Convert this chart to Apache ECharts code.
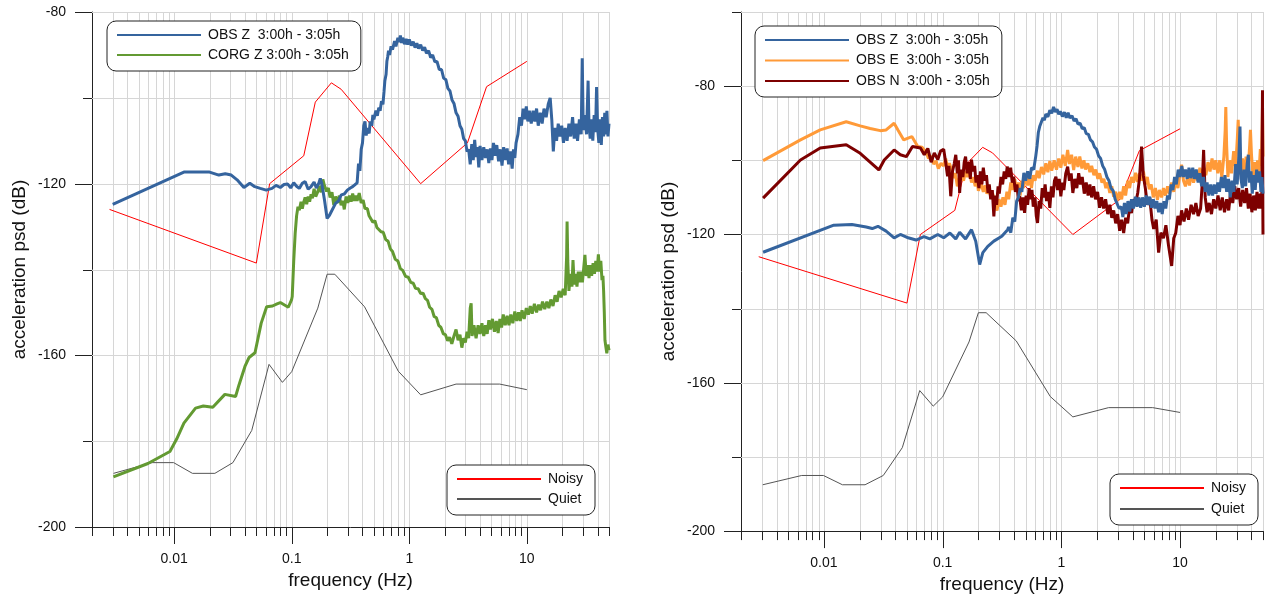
<!DOCTYPE html>
<html>
<head>
<meta charset="utf-8">
<script src="https://cdn.jsdelivr.net/npm/echarts@6/dist/echarts.min.js"></script>
<style>
  html, body { margin: 0; padding: 0; background: #fff; }
  #chart { width: 1266px; height: 599px; }
</style>
</head>
<body>
<div id="chart"></div>
<script>
// axis ticks (frequency in Hz, level in dB)
var majorFreqs = [0.01, 0.1, 1, 10];
var minorFreqs = [0.002, 0.003, 0.004, 0.005, 0.006, 0.007, 0.008, 0.009,
                  0.02, 0.03, 0.04, 0.05, 0.06, 0.07, 0.08, 0.09,
                  0.2, 0.3, 0.4, 0.5, 0.6, 0.7, 0.8, 0.9,
                  2, 3, 4, 5, 6, 7, 8, 9, 20, 30, 40, 50];
var leftDbTicks = [-200, -180, -160, -140, -120, -100, -80];
var rightDbTicks = [-200, -180, -160, -140, -120, -100, -80, -60];

// Peterson noise models
var noisyModel = [[0.00282, -126.0], [0.05, -138.5], [0.0649, -120.0], [0.1266, -113.5],
  [0.1587, -101.0], [0.2174, -96.5], [0.2632, -98.0], [1.25, -120.0], [3.125, -110.5],
  [4.545, -97.4], [10, -91.5]];
var quietModel = [[0.00305, -187.5], [0.00649, -185.0], [0.0099, -185.0], [0.0143, -187.5],
  [0.0222, -187.5], [0.0316, -185.0], [0.0457, -177.5], [0.0641, -162.1], [0.0833, -166.3],
  [0.1, -163.8], [0.1667, -149.0], [0.2, -141.1], [0.2326, -141.1], [0.4167, -148.7],
  [0.8065, -163.7], [1.25, -169.2], [2.5, -166.7], [5.88, -166.7], [10, -168.0]];

// left panel: OBS Z
var obsZLeft = [[0.003, -124.8], [0.0121, -117.3], [0.020, -117.3], [0.024, -118.0], [0.0272, -117.7],
  [0.0306, -118.0], [0.0343, -119.1], [0.0392, -120.9], [0.044, -119.9], [0.0485, -120.7], [0.054, -121.1],
  [0.0607, -121.5], [0.068, -121.1], [0.0735, -120.4], [0.080, -120.9], [0.086, -120.2], [0.0925, -120.1],
  [0.098, -121.0], [0.104, -119.8], [0.110, -120.6], [0.116, -121.1], [0.123, -119.9], [0.130, -119.5],
  [0.138, -121.3], [0.146, -120.7], [0.155, -119.6], [0.162, -121.0], [0.170, -119.9], [0.175, -118.8],
  [0.18, -119.9], [0.19, -123.8], [0.20, -128.1], [0.21, -127.3], [0.218, -126.9], [0.236, -124.6],
  [0.25, -124.0], [0.264, -122.6], [0.28, -122.4], [0.297, -121.5], [0.315, -121.0], [0.33, -120.7],
  [0.36, -119.8], [0.37, -115.3], [0.38, -117.0], [0.39, -112.0], [0.40, -110.5], [0.41, -106.5],
  [0.42, -105.5], [0.43, -108.8], [0.44, -107.0], [0.456, -108.3], [0.465, -105.5], [0.48, -106.5],
  [0.49, -104.0], [0.50, -105.0], [0.52, -103.0], [0.535, -104.2], [0.55, -102.3], [0.565, -103.0],
  [0.58, -100.8], [0.597, -101.5], [0.61, -98.5], [0.62, -96.0], [0.635, -94.5], [0.645, -91.5],
  [0.655, -90.5], [0.666, -89.0], [0.68, -90.0], [0.70, -88.0], [0.72, -88.8], [0.75, -86.8],
  [0.77, -88.0], [0.80, -86.0], [0.82, -87.0], [0.84, -85.5], [0.86, -87.2], [0.88, -86.0],
  [0.91, -87.5], [0.94, -86.3], [0.97, -87.6], [1.0, -86.4], [1.04, -87.8], [1.08, -86.9],
  [1.12, -88.3], [1.16, -87.3], [1.2, -88.5], [1.25, -87.6], [1.3, -89.0], [1.35, -88.2],
  [1.4, -89.6], [1.46, -89.0], [1.52, -90.6], [1.58, -90.0], [1.65, -91.6], [1.72, -91.5],
  [1.8, -93.4], [1.88, -93.4], [1.96, -95.4], [2.05, -95.8], [2.13, -97.8], [2.22, -98.4],
  [2.31, -100.5], [2.4, -101.3], [2.5, -103.5], [2.6, -104.3], [2.7, -106.5], [2.8, -107.3],
  [2.9, -109.5], [3.0, -110.0], [3.1, -112.5], [3.2, -112.0], [3.3, -115.5], [3.4, -110.8],
  [3.5, -114.5], [3.6, -109.8], [3.7, -113.8], [3.8, -111.5], [3.9, -116.2], [4.0, -111.2],
  [4.15, -114.5], [4.3, -111.5], [4.45, -114.0], [4.6, -112.0], [4.75, -115.2], [4.9, -111.8],
  [5.05, -114.5], [5.2, -110.5], [5.4, -113.5], [5.55, -111.0], [5.75, -114.8], [5.95, -112.0],
  [6.15, -115.8], [6.35, -111.5], [6.6, -114.5], [6.8, -111.8], [7.0, -115.5], [7.25, -112.5],
  [7.5, -116.5], [7.7, -112.0], [7.9, -114.0], [8.1, -110.5], [8.4, -108.5], [8.7, -104.5],
  [9.0, -106.5], [9.3, -102.5], [9.6, -105.0], [9.9, -102.0], [10.2, -105.5], [10.5, -103.0],
  [10.9, -106.0], [11.3, -103.0], [11.7, -105.5], [12.1, -102.5], [12.5, -106.5], [13.0, -103.5],
  [13.5, -106.0], [14.0, -102.5], [14.6, -104.5], [15.2, -101.5], [15.8, -100.0], [16.3, -105.0],
  [16.8, -112.5], [17.3, -107.0], [17.9, -110.0], [18.5, -106.0], [19.1, -109.0], [19.8, -106.5],
  [20.5, -110.5], [21.2, -107.0], [22.0, -110.0], [22.8, -106.0], [23.6, -109.0], [24.5, -104.5],
  [25.3, -109.5], [26.2, -106.0], [27.0, -110.0], [28.0, -105.0], [29.0, -108.5], [29.6, -90.8],
  [30.2, -107.5], [31.2, -104.0], [32.2, -108.5], [33.2, -96.0], [33.8, -106.5], [34.6, -109.5],
  [35.5, -105.0], [36.4, -110.0], [37.4, -104.0], [38.4, -108.0], [39.2, -97.5], [40.0, -107.0],
  [41.0, -110.5], [42.0, -105.0], [43.0, -111.0], [44.0, -104.5], [45.0, -109.0], [46.0, -103.5],
  [47.0, -108.5], [48.0, -103.0], [49.0, -109.0], [50.0, -106.0]];

// left panel: CORG Z
var corgZ = [[0.00304, -188.3], [0.00598, -185.2], [0.0092, -182.4], [0.0105, -179.5], [0.0121, -175.8],
  [0.0152, -172.3], [0.0177, -171.8], [0.0213, -172.1], [0.027, -169.1], [0.0333, -169.6],
  [0.0356, -166.9], [0.040, -162.6], [0.0434, -160.5], [0.0487, -159.4], [0.055, -152.5],
  [0.0612, -148.7], [0.0687, -148.5], [0.075, -148.0], [0.080, -147.7], [0.0935, -148.8],
  [0.0996, -147.1], [0.101, -146.3], [0.104, -138.0], [0.107, -131.6], [0.110, -127.5], [0.113, -125.4],
  [0.116, -126.2], [0.120, -124.2], [0.123, -125.8], [0.126, -124.5], [0.130, -123.2], [0.134, -124.8],
  [0.138, -123.0], [0.142, -124.2], [0.146, -122.5], [0.150, -123.4], [0.155, -121.2], [0.160, -123.0],
  [0.166, -122.0], [0.172, -120.5], [0.178, -122.0], [0.184, -119.0], [0.19, -120.5], [0.198, -121.8],
  [0.205, -121.0], [0.212, -123.2], [0.22, -122.0], [0.228, -125.0], [0.236, -123.0], [0.245, -124.5],
  [0.254, -122.8], [0.263, -125.0], [0.272, -124.0], [0.28, -126.0], [0.29, -123.0], [0.30, -124.5],
  [0.31, -122.8], [0.32, -124.2], [0.33, -122.3], [0.34, -124.0], [0.35, -122.8], [0.36, -124.0],
  [0.375, -122.2], [0.39, -124.5], [0.405, -123.8], [0.42, -125.8], [0.44, -125.8], [0.455, -127.5],
  [0.47, -127.2], [0.49, -129.0], [0.51, -128.6], [0.53, -130.2], [0.55, -129.8], [0.575, -131.2],
  [0.60, -131.3], [0.63, -133.0], [0.66, -133.4], [0.69, -135.2], [0.72, -135.8], [0.76, -137.6],
  [0.80, -138.0], [0.84, -139.8], [0.88, -140.2], [0.93, -141.6], [0.98, -141.8], [1.03, -143.0],
  [1.08, -143.2], [1.13, -144.4], [1.19, -144.5], [1.25, -145.6], [1.31, -145.5], [1.37, -146.8],
  [1.43, -147.2], [1.49, -148.8], [1.56, -149.3], [1.63, -151.0], [1.70, -151.2], [1.78, -153.0],
  [1.86, -153.5], [1.95, -155.0], [2.03, -155.2], [2.12, -156.6], [2.2, -155.8], [2.3, -157.3],
  [2.4, -155.5], [2.5, -154.0], [2.6, -156.5], [2.7, -155.2], [2.8, -158.2], [2.9, -156.0],
  [3.0, -157.0], [3.1, -154.5], [3.2, -156.0], [3.3, -149.0], [3.36, -147.9], [3.42, -155.5],
  [3.55, -153.0], [3.7, -156.0], [3.85, -153.0], [4.0, -155.0], [4.15, -152.5], [4.3, -155.5],
  [4.45, -153.0], [4.6, -155.0], [4.75, -151.8], [4.9, -154.0], [5.1, -151.5], [5.3, -154.5],
  [5.5, -152.0], [5.7, -154.8], [5.9, -151.5], [6.1, -153.5], [6.3, -150.5], [6.55, -153.0],
  [6.8, -150.8], [7.05, -153.0], [7.3, -150.5], [7.6, -152.5], [7.9, -149.8], [8.2, -152.0],
  [8.5, -150.0], [8.8, -152.0], [9.1, -149.5], [9.5, -151.5], [9.9, -149.0], [10.3, -150.5],
  [10.7, -148.5], [11.1, -150.3], [11.6, -148.0], [12.1, -150.0], [12.6, -148.2], [13.1, -149.5],
  [13.6, -147.5], [14.2, -149.2], [14.8, -147.5], [15.4, -149.0], [16.0, -147.0], [16.7, -148.5],
  [17.4, -146.0], [18.1, -147.5], [18.8, -145.0], [19.6, -146.5], [20.4, -144.5], [21.2, -146.0],
  [21.8, -137.0], [22.0, -128.8], [22.3, -138.0], [22.8, -145.0], [23.5, -141.0], [24.2, -144.0],
  [24.7, -137.8], [25.3, -143.5], [26.0, -141.0], [26.7, -144.0], [27.4, -140.5], [28.1, -143.0],
  [28.9, -140.5], [29.7, -143.0], [30.5, -139.5], [31.2, -136.6], [32.0, -141.5], [32.9, -139.0],
  [33.8, -142.0], [34.7, -139.0], [35.6, -141.5], [36.6, -138.5], [37.6, -141.0], [38.6, -138.0],
  [39.6, -140.5], [40.6, -136.5], [41.6, -140.5], [42.6, -138.0], [43.6, -142.5], [44.4, -141.5],
  [45.0, -145.0], [45.6, -150.0], [46.2, -156.5], [47.0, -158.0], [47.9, -159.5], [49.0, -157.5],
  [50, -158.8]];

// right panel: OBS Z
var obsZRight = [[0.00307, -124.8], [0.0121, -117.5], [0.0172, -117.3], [0.0227, -118.0], [0.0255, -118.4],
  [0.0285, -117.8], [0.0334, -119.1], [0.039, -120.9], [0.044, -120.0], [0.0512, -120.9], [0.0597, -121.5],
  [0.0696, -120.6], [0.078, -121.2], [0.091, -120.0], [0.102, -120.9], [0.115, -119.6], [0.129, -121.2],
  [0.139, -119.4], [0.156, -121.2], [0.175, -118.7], [0.19, -121.8], [0.205, -128.1], [0.218, -124.9],
  [0.24, -123.2], [0.27, -121.8], [0.315, -120.5], [0.353, -118.7], [0.36, -118.0], [0.375, -119.5],
  [0.39, -115.5], [0.405, -116.5], [0.42, -111.0], [0.435, -110.0], [0.45, -107.5], [0.465, -108.5],
  [0.483, -103.4], [0.50, -105.5], [0.52, -103.0], [0.542, -105.0], [0.56, -102.0], [0.585, -102.5],
  [0.608, -99.0], [0.625, -96.0], [0.64, -92.5], [0.657, -90.9], [0.68, -90.5], [0.70, -88.5],
  [0.72, -89.2], [0.74, -87.5], [0.77, -88.3], [0.80, -86.5], [0.83, -87.3], [0.86, -85.6],
  [0.89, -87.0], [0.92, -86.2], [0.95, -87.6], [0.98, -86.8], [1.02, -88.2], [1.06, -87.0],
  [1.1, -88.5], [1.14, -87.2], [1.18, -88.6], [1.23, -88.0], [1.28, -89.4], [1.33, -88.8],
  [1.38, -90.2], [1.44, -90.0], [1.5, -91.5], [1.56, -91.2], [1.62, -92.8], [1.69, -93.0],
  [1.76, -94.5], [1.83, -95.0], [1.9, -96.4], [1.98, -97.0], [2.06, -98.8], [2.14, -99.5],
  [2.23, -101.5], [2.32, -102.5], [2.42, -104.5], [2.52, -105.5], [2.62, -107.5], [2.73, -108.2],
  [2.84, -110.5], [2.95, -110.8], [3.07, -113.0], [3.2, -112.5], [3.3, -115.3], [3.4, -111.5],
  [3.52, -114.5], [3.64, -111.0], [3.77, -113.8], [3.9, -110.5], [4.05, -113.0], [4.2, -109.8],
  [4.35, -112.5], [4.5, -110.0], [4.66, -112.8], [4.82, -110.0], [5.0, -112.5], [5.18, -109.5],
  [5.36, -112.0], [5.55, -109.8], [5.75, -112.8], [5.95, -110.5], [6.15, -113.0], [6.37, -111.0],
  [6.6, -114.0], [6.83, -111.5], [7.07, -114.5], [7.32, -111.0], [7.58, -113.0], [7.85, -109.5],
  [8.13, -110.5], [8.4, -106.5], [8.7, -108.0], [9.0, -104.5], [9.3, -106.5], [9.65, -102.5],
  [10.0, -104.5], [10.35, -101.5], [10.7, -104.5], [11.1, -102.5], [11.5, -105.0], [11.9, -102.0],
  [12.3, -104.8], [12.8, -102.0], [13.2, -105.0], [13.7, -102.5], [14.2, -106.0], [14.7, -103.5],
  [15.2, -107.0], [15.8, -104.5], [16.3, -108.5], [16.9, -106.0], [17.5, -109.5], [18.1, -106.5],
  [18.8, -109.5], [19.4, -106.5], [20.1, -109.0], [20.8, -106.0], [21.5, -108.5], [22.3, -104.5],
  [23.1, -107.5], [23.9, -104.0], [24.7, -108.5], [25.6, -105.0], [26.5, -110.0], [27.4, -105.5],
  [28.4, -108.5], [29.4, -101.0], [30.3, -106.5], [31.3, -99.0], [32.0, -90.9], [32.6, -105.0],
  [33.5, -107.5], [34.6, -102.5], [35.7, -107.0], [36.8, -101.0], [37.6, -98.5], [38.5, -106.0],
  [39.6, -103.0], [40.6, -109.0], [41.8, -104.0], [43.0, -108.0], [44.2, -102.5], [45.5, -106.0],
  [46.8, -103.0], [48.0, -108.5], [49.0, -104.5], [50, -109.0]];

// right panel: OBS E
var obsE = [[0.00307, -100.1], [0.00634, -94.5], [0.0093, -91.8], [0.0154, -89.6], [0.0202, -90.7],
  [0.0245, -91.4], [0.0298, -92.0], [0.0334, -91.8], [0.039, -90.0], [0.042, -91.8], [0.047, -94.5],
  [0.055, -93.6], [0.0617, -96.3], [0.067, -96.5], [0.072, -97.6], [0.076, -99.5], [0.08, -98.8],
  [0.084, -101.0], [0.088, -100.2], [0.092, -102.2], [0.097, -100.8], [0.102, -101.5], [0.106, -99.5],
  [0.11, -101.8], [0.114, -100.8], [0.119, -102.6], [0.124, -104.8], [0.128, -103.5], [0.133, -107.0],
  [0.138, -105.0], [0.144, -104.0], [0.15, -105.5], [0.156, -103.0], [0.162, -104.5], [0.168, -103.0],
  [0.175, -106.0], [0.181, -104.5], [0.188, -107.0], [0.195, -105.5], [0.2, -108.2], [0.21, -106.0],
  [0.22, -108.5], [0.228, -106.8], [0.236, -109.0], [0.245, -107.5], [0.256, -110.2], [0.265, -109.0],
  [0.275, -112.0], [0.287, -113.5], [0.298, -110.5], [0.31, -112.5], [0.322, -110.0], [0.335, -112.0],
  [0.348, -108.5], [0.36, -110.5], [0.375, -106.0], [0.39, -108.0], [0.405, -105.0], [0.42, -108.5],
  [0.435, -106.0], [0.45, -109.5], [0.465, -105.5], [0.48, -107.5], [0.5, -104.0], [0.52, -106.8],
  [0.54, -104.5], [0.56, -107.5], [0.58, -104.0], [0.6, -105.5], [0.63, -102.8], [0.65, -104.8],
  [0.68, -101.8], [0.71, -103.8], [0.74, -100.8], [0.77, -103.2], [0.8, -100.2], [0.83, -102.8],
  [0.87, -100.0], [0.91, -102.5], [0.95, -99.5], [0.99, -102.0], [1.03, -98.5], [1.08, -101.5],
  [1.13, -97.2], [1.17, -101.0], [1.22, -98.5], [1.27, -102.6], [1.32, -99.0], [1.38, -101.8],
  [1.43, -99.0], [1.49, -102.2], [1.55, -100.0], [1.6, -102.5], [1.67, -100.8], [1.74, -103.2],
  [1.8, -101.5], [1.88, -104.0], [1.95, -102.5], [2.03, -105.0], [2.1, -103.5], [2.2, -106.0],
  [2.28, -105.0], [2.37, -107.5], [2.46, -106.0], [2.56, -108.8], [2.66, -107.0], [2.76, -109.8],
  [2.87, -108.5], [2.98, -110.8], [3.1, -108.5], [3.22, -110.5], [3.35, -107.0], [3.48, -109.5],
  [3.62, -105.5], [3.76, -107.5], [3.9, -104.5], [4.05, -106.0], [4.22, -103.4], [4.38, -105.8],
  [4.55, -103.5], [4.74, -105.5], [4.92, -103.0], [5.1, -106.5], [5.3, -104.5], [5.5, -107.8],
  [5.72, -106.5], [5.95, -110.0], [6.2, -107.5], [6.45, -110.6], [6.7, -108.0], [7.0, -110.0],
  [7.25, -107.5], [7.55, -109.5], [7.85, -107.0], [8.15, -109.0], [8.5, -106.0], [8.85, -108.5],
  [9.2, -105.5], [9.6, -107.5], [10.0, -103.5], [10.3, -101.2], [10.7, -105.5], [11.1, -107.0],
  [11.6, -104.5], [12.0, -106.8], [12.5, -103.5], [13.0, -106.0], [13.6, -103.5], [14.1, -105.5],
  [14.7, -102.0], [15.3, -104.5], [15.8, -102.0], [16.5, -104.0], [17.2, -100.5], [17.9, -103.0],
  [18.6, -99.5], [19.3, -102.5], [20.0, -100.0], [20.8, -103.5], [21.6, -100.0], [22.5, -104.5],
  [23.4, -99.0], [24.0, -92.0], [24.3, -85.6], [24.7, -96.0], [25.3, -104.5], [26.2, -100.0],
  [27.2, -103.5], [28.3, -97.5], [29.4, -102.0], [30.4, -94.0], [30.9, -89.1], [31.5, -97.0],
  [32.5, -104.0], [33.6, -99.5], [34.8, -104.5], [36.0, -99.0], [37.3, -103.5], [38.6, -96.0],
  [39.2, -91.8], [40.0, -98.5], [41.2, -104.5], [42.5, -100.5], [43.8, -104.5], [45.0, -100.0],
  [46.2, -103.5], [47.5, -97.0], [48.5, -101.5], [49.5, -85.6], [50, -99.0]];

// right panel: OBS N
var obsN = [[0.00307, -110.2], [0.00634, -99.9], [0.0093, -96.7], [0.0154, -95.8], [0.0202, -98.1],
  [0.029, -102.6], [0.0322, -99.9], [0.039, -97.2], [0.044, -98.5], [0.0495, -99.0], [0.0557, -96.3],
  [0.065, -96.7], [0.07, -98.5], [0.075, -96.8], [0.08, -100.5], [0.085, -98.0], [0.091, -99.8],
  [0.096, -97.5], [0.102, -97.0], [0.106, -100.5], [0.11, -104.3], [0.113, -101.5], [0.117, -109.7],
  [0.121, -103.0], [0.125, -101.0], [0.129, -98.5], [0.133, -103.5], [0.136, -100.0], [0.139, -108.8],
  [0.143, -102.5], [0.148, -104.5], [0.152, -100.5], [0.156, -99.0], [0.161, -103.5], [0.166, -100.5],
  [0.171, -105.0], [0.175, -99.8], [0.18, -103.0], [0.186, -101.5], [0.191, -106.0], [0.196, -104.0],
  [0.202, -107.5], [0.208, -103.0], [0.214, -106.5], [0.22, -102.0], [0.227, -105.5], [0.234, -104.0],
  [0.241, -108.8], [0.247, -106.5], [0.254, -110.5], [0.262, -108.0], [0.27, -115.1], [0.277, -109.5],
  [0.285, -112.0], [0.293, -107.0], [0.3, -109.0], [0.31, -104.5], [0.32, -106.5], [0.33, -103.0],
  [0.34, -105.0], [0.35, -101.7], [0.362, -104.5], [0.374, -102.0], [0.386, -106.0], [0.397, -104.4],
  [0.41, -108.5], [0.423, -106.5], [0.435, -111.0], [0.446, -109.7], [0.46, -113.5], [0.475, -110.0],
  [0.49, -114.2], [0.505, -109.5], [0.52, -112.0], [0.535, -107.5], [0.55, -110.5], [0.565, -108.0],
  [0.58, -112.5], [0.6, -110.0], [0.615, -115.0], [0.63, -116.9], [0.65, -111.0], [0.67, -113.0],
  [0.69, -107.5], [0.71, -110.0], [0.73, -106.5], [0.75, -111.0], [0.775, -108.5], [0.8, -112.8],
  [0.825, -107.0], [0.85, -110.0], [0.875, -105.5], [0.9, -104.4], [0.93, -108.0], [0.96, -105.0],
  [0.99, -109.7], [1.02, -106.0], [1.05, -108.0], [1.09, -103.5], [1.13, -101.7], [1.17, -105.5],
  [1.21, -103.5], [1.25, -108.8], [1.3, -105.0], [1.35, -107.5], [1.4, -103.5], [1.45, -106.5],
  [1.5, -104.5], [1.56, -109.0], [1.62, -106.0], [1.68, -109.5], [1.74, -106.5], [1.8, -110.0],
  [1.87, -107.0], [1.94, -110.5], [2.02, -108.5], [2.1, -112.8], [2.18, -110.0], [2.27, -113.0],
  [2.36, -110.5], [2.46, -114.5], [2.56, -112.0], [2.66, -115.5], [2.76, -113.5], [2.87, -117.0],
  [2.98, -114.5], [3.1, -119.0], [3.22, -116.0], [3.35, -119.6], [3.48, -115.5], [3.62, -117.0],
  [3.76, -112.5], [3.9, -114.2], [4.05, -110.5], [4.2, -112.0], [4.4, -108.8], [4.55, -105.0],
  [4.74, -96.3], [4.9, -104.0], [5.1, -107.5], [5.3, -112.0], [5.55, -110.0], [5.8, -116.0],
  [6.0, -118.5], [6.3, -116.0], [6.6, -124.9], [6.9, -119.5], [7.25, -121.0], [7.6, -117.5],
  [8.0, -123.0], [8.5, -128.5], [8.85, -121.0], [9.2, -119.6], [9.6, -115.0], [10.0, -117.5],
  [10.3, -113.5], [10.8, -116.5], [11.3, -113.0], [11.8, -116.0], [12.4, -112.0], [13.0, -114.5],
  [13.6, -111.5], [14.2, -115.0], [14.9, -113.0], [15.4, -106.0], [15.8, -97.2], [16.3, -110.0],
  [16.9, -114.0], [17.6, -111.5], [18.4, -114.5], [19.2, -110.5], [20.0, -113.0], [20.9, -109.5],
  [21.8, -113.5], [22.7, -110.0], [23.7, -114.0], [24.7, -110.5], [25.7, -113.5], [26.7, -108.5],
  [27.8, -111.5], [28.9, -107.0], [30.0, -110.5], [31.2, -107.5], [32.4, -112.5], [33.7, -108.0],
  [35.0, -111.5], [36.3, -107.5], [37.6, -113.0], [38.9, -109.0], [40.3, -114.0], [41.7, -109.5],
  [43.1, -113.5], [44.5, -108.5], [46.0, -113.0], [47.5, -109.0], [48.8, -113.0], [49.5, -81.1],
  [49.9, -116.0], [50, -120.0]];

var FONT = '"Liberation Sans", Arial, sans-serif';
var gridColor = '#d6d6d6';
var axisColor = '#222';
var xMin = 0.002, xMax = 50, yMin = -200;

var xTickData = majorFreqs.map(function (f) { return [f, yMin, 1]; })
  .concat(minorFreqs.map(function (f) { return [f, yMin, 0]; }));

function dbTickData(list) {
  return list.map(function (v) { return [xMin, v, v % 40 === 0 ? 1 : 0]; });
}

// vertical grid lines + ticks below the frequency axis
function renderXTick(params, api) {
  var cs = params.coordSys;
  var x = Math.round(api.coord([api.value(0), api.value(1)])[0]) + 0.5;
  var bottom = cs.y + cs.height;
  var parts = [];
  if (api.value(0) > xMin * 1.01) {
    parts.push({ type: 'line', shape: { x1: x, y1: cs.y, x2: x, y2: bottom },
      style: { stroke: gridColor, lineWidth: 1 } });
  }
  parts.push({ type: 'line', shape: { x1: x, y1: bottom, x2: x, y2: bottom + (api.value(2) ? 17 : 9) },
    style: { stroke: axisColor, lineWidth: 1 } });
  return { type: 'group', children: parts };
}

// horizontal grid lines + ticks left of the dB axis
function renderYTick(params, api) {
  var cs = params.coordSys;
  var y = Math.round(api.coord([api.value(0), api.value(1)])[1]) + 0.5;
  var parts = [];
  if (api.value(1) > yMin) {
    parts.push({ type: 'line', shape: { x1: cs.x, y1: y, x2: cs.x + cs.width, y2: y },
      style: { stroke: gridColor, lineWidth: 1 } });
  }
  parts.push({ type: 'line', shape: { x1: cs.x - (api.value(2) ? 17 : 9), y1: y, x2: cs.x, y2: y },
    style: { stroke: axisColor, lineWidth: 1 } });
  return { type: 'group', children: parts };
}

function xAxisFor(idx) {
  return {
    type: 'log', logBase: 10, gridIndex: idx, min: xMin, max: xMax,
    axisLine: { lineStyle: { color: axisColor, width: 1 } },
    axisTick: { show: false }, splitLine: { show: false }, minorTick: { show: false },
    axisLabel: {
      fontSize: 14, color: '#111', fontFamily: FONT, margin: 25,
      showMinLabel: false, showMaxLabel: false,
      formatter: function (v) {
        var l = Math.log(v) / Math.LN10;
        return Math.abs(l - Math.round(l)) < 1e-6 ? String(+v.toPrecision(3)) : '';
      }
    },
    name: 'frequency (Hz)', nameLocation: 'middle', nameGap: 42,
    nameTextStyle: { fontSize: 19, color: '#111', fontFamily: FONT }
  };
}

function yAxisFor(idx, max) {
  return {
    type: 'value', gridIndex: idx, min: yMin, max: max, interval: 20,
    axisLine: { show: true, lineStyle: { color: axisColor, width: 1 } },
    axisTick: { show: false }, splitLine: { show: false },
    axisLabel: {
      fontSize: 14, color: '#111', fontFamily: FONT, margin: 26,
      formatter: function (v) { return v % 40 === 0 ? String(v) : ''; }
    },
    name: 'acceleration psd (dB)', nameLocation: 'middle', nameGap: 63, nameRotate: 90,
    nameTextStyle: { fontSize: 19, color: '#111', fontFamily: FONT }
  };
}

function line(name, idx, data, color, width, z) {
  return {
    name: name, type: 'line', xAxisIndex: idx, yAxisIndex: idx, data: data,
    showSymbol: false, symbol: 'none', z: z, silent: true,
    lineStyle: { color: color, width: width }, itemStyle: { color: color }
  };
}

function legendBox(names, left, top, gap) {
  return {
    data: names, left: left, top: top, orient: 'vertical',
    itemWidth: 84, itemHeight: 14, itemGap: gap, selectedMode: false,
    padding: [7, 12, 9, 9], borderColor: axisColor, borderWidth: 1, borderRadius: 9,
    backgroundColor: '#fff',
    itemStyle: { opacity: 0 },
    textStyle: { fontSize: 14, color: '#111', fontFamily: FONT, padding: [0, 0, 0, 2] }
  };
}

var zName = 'OBS Z  3:00h - 3:05h';
var corgName = 'CORG Z 3:00h - 3:05h';
var eName = 'OBS E  3:00h - 3:05h';
var nName = 'OBS N  3:00h - 3:05h';

var myChart = echarts.init(document.getElementById('chart'), null, { renderer: 'canvas' });

var option = {
  animation: false,
  backgroundColor: '#fff',
  grid: [
    { left: 92, top: 12, width: 517, height: 515 },
    { left: 741, top: 12, width: 522, height: 521 }
  ],
  xAxis: [xAxisFor(0), xAxisFor(1)],
  yAxis: [yAxisFor(0, -80), yAxisFor(1, -60)],
  legend: [
    legendBox([zName, corgName], 107, 21, 6),
    legendBox(['Noisy', 'Quiet'], 447, 465, 6),
    legendBox([zName, eName, nName], 755, 26, 6.5),
    legendBox(['Noisy', 'Quiet'], 1110, 474, 7)
  ],
  series: [
    { type: 'custom', xAxisIndex: 0, yAxisIndex: 0, data: xTickData, renderItem: renderXTick,
      encode: { x: 0, y: 1 }, silent: true, clip: false, z: 1 },
    { type: 'custom', xAxisIndex: 0, yAxisIndex: 0, data: dbTickData(leftDbTicks), renderItem: renderYTick,
      encode: { x: 0, y: 1 }, silent: true, clip: false, z: 1 },
    { type: 'custom', xAxisIndex: 1, yAxisIndex: 1, data: xTickData, renderItem: renderXTick,
      encode: { x: 0, y: 1 }, silent: true, clip: false, z: 1 },
    { type: 'custom', xAxisIndex: 1, yAxisIndex: 1, data: dbTickData(rightDbTicks), renderItem: renderYTick,
      encode: { x: 0, y: 1 }, silent: true, clip: false, z: 1 },

    line('Noisy', 0, noisyModel, '#ff0000', 1, 2),
    line('Quiet', 0, quietModel, '#555555', 1, 2),
    line(corgName, 0, corgZ, '#639a32', 3, 3),
    line(zName, 0, obsZLeft, '#35649e', 3, 3),

    line('Noisy', 1, noisyModel, '#ff0000', 1, 2),
    line('Quiet', 1, quietModel, '#555555', 1, 2),
    line(eName, 1, obsE, '#ff9a38', 3, 3),
    line(nName, 1, obsN, '#7d0000', 3, 3),
    line(zName, 1, obsZRight, '#35649e', 3, 3)
  ]
};

myChart.setOption(option);
</script>
</body>
</html>
